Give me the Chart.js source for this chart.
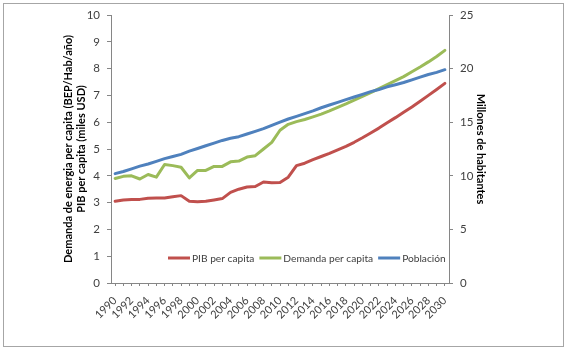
<!DOCTYPE html>
<html>
<head>
<meta charset="utf-8">
<script src="https://cdn.jsdelivr.net/npm/chart.js@4"></script>
<style>
html, body { margin: 0; padding: 0; background: #fff; }
#box { position: absolute; left: 3px; top: 3px; width: 559px; height: 342px; border: 1px solid #a6a6a6; }
canvas { position: absolute; left: 0; top: 0; }
</style>
</head>
<body>
<div id="box"></div>
<canvas id="c" width="567" height="350"></canvas>
<script>
const years = ['1990','1991','1992','1993','1994','1995','1996','1997','1998','1999',
  '2000','2001','2002','2003','2004','2005','2006','2007','2008','2009',
  '2010','2011','2012','2013','2014','2015','2016','2017','2018','2019',
  '2020','2021','2022','2023','2024','2025','2026','2027','2028','2029','2030'];

// PIB per capita (miles USD) - eje izquierdo
const pib = [3.05,3.1,3.12,3.12,3.16,3.17,3.17,3.22,3.26,3.05,
  3.03,3.05,3.1,3.15,3.38,3.5,3.58,3.6,3.77,3.74,
  3.75,3.95,4.38,4.47,4.6,4.72,4.84,4.97,5.1,5.25,
  5.42,5.6,5.78,5.98,6.17,6.37,6.57,6.78,7.0,7.22,7.45];

// Demanda de energia per capita (BEP/Hab/año) - eje izquierdo
const demanda = [3.9,3.98,4.0,3.88,4.05,3.95,4.42,4.38,4.32,3.92,
  4.2,4.2,4.35,4.35,4.52,4.55,4.7,4.75,5.0,5.25,
  5.7,5.92,6.02,6.1,6.2,6.3,6.42,6.55,6.68,6.82,
  6.96,7.1,7.25,7.4,7.55,7.7,7.88,8.06,8.25,8.45,8.68];

// Poblacion (millones) - eje derecho
const poblacion = [10.2,10.4,10.65,10.9,11.1,11.35,11.6,11.8,12.0,12.3,
  12.55,12.8,13.05,13.3,13.5,13.65,13.9,14.15,14.4,14.7,
  15.0,15.3,15.55,15.8,16.05,16.35,16.6,16.85,17.1,17.35,
  17.6,17.85,18.05,18.3,18.5,18.7,18.95,19.2,19.45,19.65,19.9];

const font = 'Lato';
const axisGray = '#868686';
const textGray = '#404040';

// leyenda dentro del area del grafico
const insideLegend = {
    id: 'insideLegend',
    afterDraw(chart) {
        const ctx = chart.ctx, a = chart.chartArea;
        let x = a.left + 57;
        const y = a.top + 243;
        ctx.save();
        ctx.font = '10.2px ' + font;
        ctx.textBaseline = 'middle';
        chart.data.datasets.forEach(ds => {
            ctx.strokeStyle = ds.borderColor;
            ctx.lineWidth = 3;
            ctx.beginPath();
            ctx.moveTo(x, y);
            ctx.lineTo(x + 22, y);
            ctx.stroke();
            ctx.fillStyle = textGray;
            ctx.fillText(ds.label, x + 24, y + 1);
            x += 24 + ctx.measureText(ds.label).width + 5;
        });
        ctx.restore();
    }
};

new Chart(document.getElementById('c'), {
    type: 'line',
    data: {
        labels: years,
        datasets: [
            { label: 'PIB per capita', data: pib, borderColor: '#C0504D', yAxisID: 'y', order: 3 },
            { label: 'Demanda per capita', data: demanda, borderColor: '#9BBB59', yAxisID: 'y', order: 2 },
            { label: 'Población', data: poblacion, borderColor: '#4F81BD', yAxisID: 'y2', order: 1 }
        ]
    },
    options: {
        responsive: false,
        animation: false,
        devicePixelRatio: 1,
        layout: { padding: { left: 62, right: 80, top: 15, bottom: 0 } },
        elements: {
            line: { borderWidth: 3, tension: 0, borderJoinStyle: 'round', borderCapStyle: 'round' },
            point: { radius: 0 }
        },
        plugins: { legend: { display: false }, tooltip: { enabled: false } },
        scales: {
            x: {
                offset: true,
                afterFit: s => { s.height = 67; },
                grid: { drawOnChartArea: false, color: axisGray, tickLength: 3 },
                border: { color: axisGray },
                ticks: {
                    autoSkip: false, minRotation: 45, maxRotation: 45, padding: 8,
                    color: textGray, font: { family: font, size: 11 },
                    callback: function (v, i) { return i % 2 === 0 ? this.getLabelForValue(v) : ''; }
                }
            },
            y: {
                position: 'left', min: 0, max: 10,
                afterFit: s => { s.width = 49; },
                grid: { drawOnChartArea: false, color: axisGray, tickLength: 4 },
                border: { color: axisGray },
                ticks: { stepSize: 1, padding: 7, color: textGray, font: { family: font, size: 11.5 } },
                title: {
                    display: true, padding: 0, color: '#000',
                    text: ['Demanda de energia per capita (BEP/Hab/año)', 'PIB per capita (miles USD)'],
                    font: { family: font, size: 11, weight: 'bold' }
                }
            },
            y2: {
                position: 'right', min: 0, max: 25,
                afterFit: s => { s.width = 38; },
                grid: { drawOnChartArea: false, color: axisGray, tickLength: 4 },
                border: { color: axisGray },
                ticks: { stepSize: 5, padding: 7, color: textGray, font: { family: font, size: 11.5 } },
                title: {
                    display: true, padding: 0, color: '#000',
                    text: 'Millones de habitantes',
                    font: { family: font, size: 11, weight: 'bold' }
                }
            }
        }
    },
    plugins: [insideLegend]
});
</script>
</body>
</html>
